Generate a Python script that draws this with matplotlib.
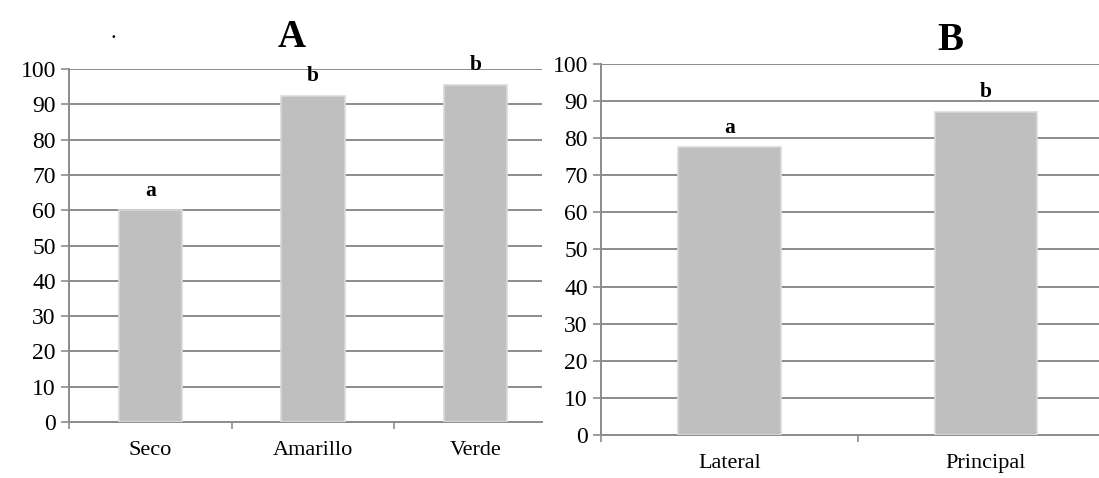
import matplotlib
matplotlib.use("Agg")
import matplotlib.pyplot as plt

plt.rcParams['font.family'] = ['Liberation Serif', 'DejaVu Serif']

# Panel A data
cats_a = ["Seco", "Amarillo", "Verde"]
vals_a = [60, 92.4, 95.6]
letters_a = ["a", "b", "b"]

# Panel B data
cats_b = ["Lateral", "Principal"]
vals_b = [77.6, 87.1]
letters_b = ["a", "b"]

yticks = list(range(0, 101, 10))

W, H = 1099, 478
fig = plt.figure(figsize=(W / 100, H / 100), dpi=100)

grid_c = "#8c8c8c"
bar_c = "#bfbfbf"
edge_c = "#d9d9d9"


def make_axes(px_left, px_right, px_top, px_bottom):
    return fig.add_axes([px_left / W, 1 - px_bottom / H,
                         (px_right - px_left) / W, (px_bottom - px_top) / H])


def style(ax, cats, vals, letters, xmax, width):
    x = list(range(len(cats)))
    ax.bar(x, vals, width=width, color=bar_c, edgecolor=edge_c, linewidth=1.2, zorder=3)
    for xi, v, l in zip(x, vals, letters):
        ax.annotate(l, (xi, v), xytext=(0, 10.5), textcoords="offset points",
                    ha="center", va="baseline", fontsize=15.5, fontweight="bold", zorder=4)
    ax.set_ylim(0, 100)
    ax.set_xlim(-0.5, xmax)
    ax.set_yticks(yticks)
    ax.set_yticklabels([str(t) for t in yticks])
    ax.yaxis.grid(True, color=grid_c, linewidth=1.4, zorder=0)
    ax.set_axisbelow(True)
    for s in ["top", "right"]:
        ax.spines[s].set_visible(False)
    for s in ["left", "bottom"]:
        ax.spines[s].set_color(grid_c)
        ax.spines[s].set_linewidth(1.4)
    # category boundary ticks
    ax.set_xticks([i - 0.5 for i in range(len(cats) + 1) if i - 0.5 <= xmax])
    ax.set_xticklabels([])
    ax.set_xticks(x, minor=True)
    ax.set_xticklabels(cats, minor=True, fontsize=16)
    ax.tick_params(axis="x", which="major", direction="out", length=5, width=1.2, color=grid_c)
    ax.tick_params(axis="x", which="minor", length=0, pad=14)
    ax.tick_params(axis="y", direction="out", length=5.5, width=1.2, color=grid_c,
                   labelsize=17, pad=4)


axA = make_axes(69, 542, 69, 422)
style(axA, cats_a, vals_a, letters_a, 2.41, 0.39)

axB = make_axes(601, 1099, 64, 435)
style(axB, cats_b, vals_b, letters_b, 1.44, 0.40)

fig.text(292 / W, 1 - 47 / H, "A", ha="center", va="baseline", fontsize=28, fontweight="bold")
fig.text(950 / W, 1 - 50 / H, "B", ha="center", va="baseline", fontsize=28, fontweight="bold")
fig.text(113 / W, 1 - 38 / H, ".", ha="center", va="baseline", fontsize=16)

fig.savefig("out.png", dpi=100)
